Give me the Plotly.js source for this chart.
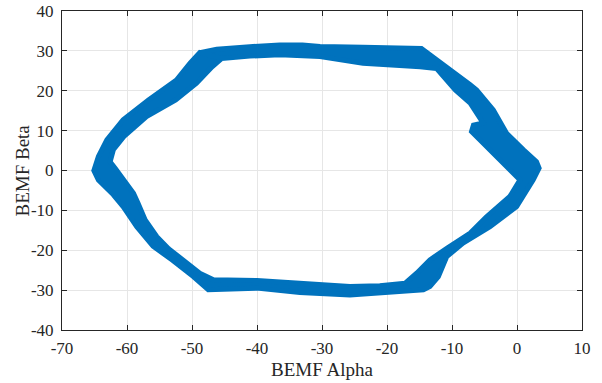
<!DOCTYPE html>
<html>
<head>
<meta charset="utf-8">
<script src="https://cdn.plot.ly/plotly-3.0.1.min.js"></script>
<style>html,body{margin:0;padding:0;background:#fff;}#chart{width:602px;height:383px;}</style>
</head>
<body>
<div id="chart"></div>
<script>
// Outer edge of the BEMF trajectory band (clockwise on screen)
var outerAlpha = [-48.8,-46.2,-41.1,-36.5,-33.0,-30.3,-23.7,-14.7,-7.2,-6.2,-3.65,-1.6,1.0,3.0,3.4,3.0,2.5,-0.05,-4.15,-8.3,-10.8,-12.1,-13.4,-14.4,-21.1,-25.7,-33.4,-40.05,-47.5,-49.8,-53.0,-56.0,-58.5,-60.6,-62.1,-64.4,-65.1,-64.4,-63.1,-60.6,-56.7,-52.4,-50.3];
var outerBeta  = [29.55,30.4,31.05,31.5,31.5,31.1,30.9,30.6,21.5,20.2,15.2,9.35,5.2,2.2,0.6,-0.7,-2.35,-9.05,-14.06,-18.2,-21.6,-26.6,-29.1,-29.9,-30.75,-31.2,-30.6,-29.5,-29.9,-26.6,-22.5,-19.0,-14.1,-9.05,-6.1,-2.4,0.0,3.5,7.7,12.7,17.7,22.7,26.9];
// Inner edge of the band (clockwise on screen)
var innerAlpha = [-45.4,-41.1,-36.5,-30.3,-28.8,-23.7,-14.9,-12.4,-9.5,-7.2,-5.2,-6.7,-7.0,-0.55,0.46,-1.1,-4.7,-7.2,-10.8,-13.4,-15.4,-17.2,-21.1,-25.7,-33.4,-40.0,-46.7,-48.8,-53.6,-55.4,-57.2,-58.3,-59.0,-60.6,-61.85,-62.6,-62.1,-60.5,-57.0,-52.5,-49.3,-46.9];
var innerBeta  = [28.1,28.7,29.0,28.6,28.1,26.9,26.0,25.6,20.2,16.9,11.9,11.4,9.75,-0.7,-2.35,-6.5,-11.6,-15.7,-19.5,-22.4,-25.7,-28.25,-28.9,-29.1,-28.25,-27.6,-27.4,-25.75,-19.6,-16.6,-12.4,-8.2,-5.7,-2.4,0.6,2.2,5.2,8.5,13.5,17.7,21.9,26.0];
var xTicks = [-70,-60,-50,-40,-30,-20,-10,0,10];
var yTicks = [-40,-30,-20,-10,0,10,20,30,40];

// Ring polygon: outer loop, then inner loop in reverse (opposite winding -> hole)
var ringX = outerAlpha.concat([outerAlpha[0]], [innerAlpha[0]], innerAlpha.slice().reverse(), [innerAlpha[0]], [outerAlpha[0]]);
var ringY = outerBeta.concat([outerBeta[0]], [innerBeta[0]], innerBeta.slice().reverse(), [innerBeta[0]], [outerBeta[0]]);

var blue = '#0072BD';
var trace = {
  x: ringX, y: ringY, type: 'scatter', mode: 'lines',
  fill: 'toself', fillcolor: blue,
  line: {color: blue, width: 5},
  hoverinfo: 'skip', showlegend: false
};
var serif = 'Liberation Serif, Times New Roman, serif';
var axisCommon = {
  showline: true, linecolor: '#262626', linewidth: 1, mirror: 'ticks',
  ticks: 'inside', ticklen: 5, tickcolor: '#262626', tickwidth: 1,
  showgrid: true, gridcolor: '#e6e6e6', gridwidth: 1, zeroline: false,
  tickfont: {family: serif, size: 17, color: '#262626'},
  tickmode: 'array'
};
var layout = {
  width: 602, height: 383,
  margin: {l: 62, r: 20, t: 11, b: 53},
  paper_bgcolor: '#ffffff', plot_bgcolor: '#ffffff',
  font: {family: serif, color: '#262626'},
  xaxis: Object.assign({}, axisCommon, {
    range: [-70, 10], tickvals: xTicks, ticktext: xTicks.map(String),
    ticklabelstandoff: 3
  }),
  yaxis: Object.assign({}, axisCommon, {
    range: [-40, 40], tickvals: yTicks, ticktext: yTicks.map(String),
    ticklabelstandoff: 4
  }),
  annotations: [
    {text: 'BEMF Alpha', xref: 'paper', yref: 'paper', x: 0.5, y: (330 - 369) / 319,
     xanchor: 'center', yanchor: 'middle', showarrow: false,
     font: {family: serif, size: 19, color: '#262626'}},
    {text: 'BEMF Beta', xref: 'paper', yref: 'paper', x: (22 - 62) / 520, y: 0.5,
     xanchor: 'center', yanchor: 'middle', textangle: -90, showarrow: false,
     font: {family: serif, size: 19, color: '#262626'}}
  ]
};
Plotly.newPlot('chart', [trace], layout, {staticPlot: true, displayModeBar: false});
</script>
</body>
</html>
